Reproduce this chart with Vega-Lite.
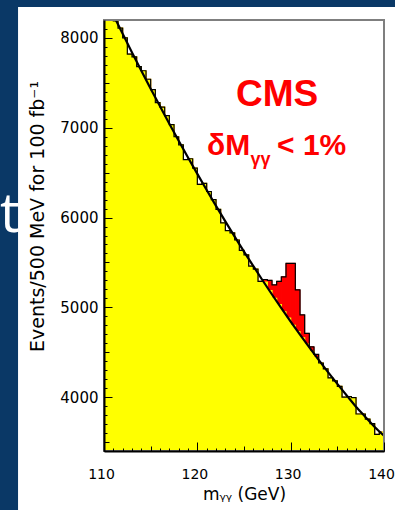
{
  "$schema": "https://vega.github.io/schema/vega-lite/v6.json",
  "width": 280,
  "height": 431,
  "autosize": {"type": "none"},
  "padding": {"left": 104, "top": 20, "right": 11, "bottom": 59},
  "background": "#0a3866",
  "config": {"view": {"stroke": null}},
  "resolve": {"axis": {"x": "independent", "y": "independent"}},
  "datasets": {
    "hist": [
      {"lo": 110.0, "hi": 110.5, "m": 110.25, "bkg": 8420, "tot": 8420},
      {"lo": 110.5, "hi": 111.0, "m": 110.75, "bkg": 8300, "tot": 8300},
      {"lo": 111.0, "hi": 111.5, "m": 111.25, "bkg": 8190, "tot": 8190},
      {"lo": 111.5, "hi": 112.0, "m": 111.75, "bkg": 8110, "tot": 8110},
      {"lo": 112.0, "hi": 112.5, "m": 112.25, "bkg": 8000, "tot": 8000},
      {"lo": 112.5, "hi": 113.0, "m": 112.75, "bkg": 7820, "tot": 7820},
      {"lo": 113.0, "hi": 113.5, "m": 113.25, "bkg": 7790, "tot": 7790},
      {"lo": 113.5, "hi": 114.0, "m": 113.75, "bkg": 7680, "tot": 7680},
      {"lo": 114.0, "hi": 114.5, "m": 114.25, "bkg": 7635, "tot": 7635},
      {"lo": 114.5, "hi": 115.0, "m": 114.75, "bkg": 7540, "tot": 7540},
      {"lo": 115.0, "hi": 115.5, "m": 115.25, "bkg": 7425, "tot": 7425},
      {"lo": 115.5, "hi": 116.0, "m": 115.75, "bkg": 7280, "tot": 7280},
      {"lo": 116.0, "hi": 116.5, "m": 116.25, "bkg": 7230, "tot": 7230},
      {"lo": 116.5, "hi": 117.0, "m": 116.75, "bkg": 7135, "tot": 7135},
      {"lo": 117.0, "hi": 117.5, "m": 117.25, "bkg": 7035, "tot": 7035},
      {"lo": 117.5, "hi": 118.0, "m": 117.75, "bkg": 6900, "tot": 6900},
      {"lo": 118.0, "hi": 118.5, "m": 118.25, "bkg": 6810, "tot": 6810},
      {"lo": 118.5, "hi": 119.0, "m": 118.75, "bkg": 6645, "tot": 6645},
      {"lo": 119.0, "hi": 119.5, "m": 119.25, "bkg": 6655, "tot": 6655},
      {"lo": 119.5, "hi": 120.0, "m": 119.75, "bkg": 6550, "tot": 6550},
      {"lo": 120.0, "hi": 120.5, "m": 120.25, "bkg": 6370, "tot": 6370},
      {"lo": 120.5, "hi": 121.0, "m": 120.75, "bkg": 6380, "tot": 6380},
      {"lo": 121.0, "hi": 121.5, "m": 121.25, "bkg": 6290, "tot": 6290},
      {"lo": 121.5, "hi": 122.0, "m": 121.75, "bkg": 6200, "tot": 6200},
      {"lo": 122.0, "hi": 122.5, "m": 122.25, "bkg": 6090, "tot": 6090},
      {"lo": 122.5, "hi": 123.0, "m": 122.75, "bkg": 5940, "tot": 5940},
      {"lo": 123.0, "hi": 123.5, "m": 123.25, "bkg": 5855, "tot": 5855},
      {"lo": 123.5, "hi": 124.0, "m": 123.75, "bkg": 5830, "tot": 5830},
      {"lo": 124.0, "hi": 124.5, "m": 124.25, "bkg": 5750, "tot": 5750},
      {"lo": 124.5, "hi": 125.0, "m": 124.75, "bkg": 5635, "tot": 5635},
      {"lo": 125.0, "hi": 125.5, "m": 125.25, "bkg": 5585, "tot": 5585},
      {"lo": 125.5, "hi": 126.0, "m": 125.75, "bkg": 5460, "tot": 5460},
      {"lo": 126.0, "hi": 126.5, "m": 126.25, "bkg": 5425, "tot": 5425},
      {"lo": 126.5, "hi": 127.0, "m": 126.75, "bkg": 5290, "tot": 5290},
      {"lo": 127.0, "hi": 127.5, "m": 127.25, "bkg": 5280, "tot": 5310},
      {"lo": 127.5, "hi": 128.0, "m": 127.75, "bkg": 5185, "tot": 5300},
      {"lo": 128.0, "hi": 128.5, "m": 128.25, "bkg": 5100, "tot": 5250},
      {"lo": 128.5, "hi": 129.0, "m": 128.75, "bkg": 5030, "tot": 5290},
      {"lo": 129.0, "hi": 129.5, "m": 129.25, "bkg": 4950, "tot": 5340},
      {"lo": 129.5, "hi": 130.0, "m": 129.75, "bkg": 4880, "tot": 5490},
      {"lo": 130.0, "hi": 130.5, "m": 130.25, "bkg": 4800, "tot": 5490},
      {"lo": 130.5, "hi": 131.0, "m": 130.75, "bkg": 4730, "tot": 5195},
      {"lo": 131.0, "hi": 131.5, "m": 131.25, "bkg": 4660, "tot": 4915},
      {"lo": 131.5, "hi": 132.0, "m": 131.75, "bkg": 4590, "tot": 4710},
      {"lo": 132.0, "hi": 132.5, "m": 132.25, "bkg": 4510, "tot": 4560},
      {"lo": 132.5, "hi": 133.0, "m": 132.75, "bkg": 4440, "tot": 4475},
      {"lo": 133.0, "hi": 133.5, "m": 133.25, "bkg": 4380, "tot": 4380},
      {"lo": 133.5, "hi": 134.0, "m": 133.75, "bkg": 4315, "tot": 4315},
      {"lo": 134.0, "hi": 134.5, "m": 134.25, "bkg": 4215, "tot": 4215},
      {"lo": 134.5, "hi": 135.0, "m": 134.75, "bkg": 4180, "tot": 4180},
      {"lo": 135.0, "hi": 135.5, "m": 135.25, "bkg": 4120, "tot": 4120},
      {"lo": 135.5, "hi": 136.0, "m": 135.75, "bkg": 4000, "tot": 4000},
      {"lo": 136.0, "hi": 136.5, "m": 136.25, "bkg": 4007, "tot": 4007},
      {"lo": 136.5, "hi": 137.0, "m": 136.75, "bkg": 3994, "tot": 3994},
      {"lo": 137.0, "hi": 137.5, "m": 137.25, "bkg": 3812, "tot": 3812},
      {"lo": 137.5, "hi": 138.0, "m": 137.75, "bkg": 3812, "tot": 3812},
      {"lo": 138.0, "hi": 138.5, "m": 138.25, "bkg": 3755, "tot": 3755},
      {"lo": 138.5, "hi": 139.0, "m": 138.75, "bkg": 3705, "tot": 3705},
      {"lo": 139.0, "hi": 139.5, "m": 139.25, "bkg": 3585, "tot": 3585},
      {"lo": 139.5, "hi": 140.0, "m": 139.75, "bkg": 3610, "tot": 3610}
    ],
    "fit": [
      {"mass": 110, "fit": 8470}, {"mass": 111, "fit": 8256}, {"mass": 112, "fit": 8046},
      {"mass": 113, "fit": 7839}, {"mass": 114, "fit": 7635}, {"mass": 115, "fit": 7435},
      {"mass": 116, "fit": 7239}, {"mass": 117, "fit": 7045}, {"mass": 118, "fit": 6855},
      {"mass": 119, "fit": 6669}, {"mass": 120, "fit": 6486}, {"mass": 121, "fit": 6306},
      {"mass": 122, "fit": 6130}, {"mass": 123, "fit": 5957}, {"mass": 124, "fit": 5787},
      {"mass": 125, "fit": 5621}, {"mass": 126, "fit": 5459}, {"mass": 127, "fit": 5299},
      {"mass": 128, "fit": 5143}, {"mass": 129, "fit": 4991}, {"mass": 130, "fit": 4842},
      {"mass": 131, "fit": 4696}, {"mass": 132, "fit": 4554}, {"mass": 133, "fit": 4415},
      {"mass": 134, "fit": 4279}, {"mass": 135, "fit": 4147}, {"mass": 136, "fit": 4019},
      {"mass": 137, "fit": 3893}, {"mass": 138, "fit": 3780}, {"mass": 139, "fit": 3668},
      {"mass": 140, "fit": 3570}
    ]
  },
  "layer": [
    {
      "data": {"values": [{"panel": "white"}]},
      "mark": {"type": "rect", "fill": "#ffffff", "clip": false},
      "encoding": {
        "x": {"datum": 100.79, "type": "quantitative", "axis": null},
        "x2": {"datum": 142},
        "y": {"datum": 8345, "type": "quantitative", "axis": null},
        "y2": {"datum": 2600}
      }
    },
    {
      "data": {"name": "hist"},
      "mark": {"type": "rect", "fill": "#ff0000", "stroke": "#ff0000", "strokeWidth": 1, "clip": true},
      "encoding": {
        "x": {
          "field": "lo",
          "type": "quantitative",
          "scale": {"domain": [110, 140], "nice": false, "zero": false},
          "axis": {
            "orient": "bottom",
            "values": [111,112,113,114,115,116,117,118,119,121,122,123,124,125,126,127,128,129,131,132,133,134,135,136,137,138,139],
            "tickSize": {"condition": {"test": "datum.value % 5 === 0", "value": -5}, "value": -3},
            "tickColor": "#000000",
            "tickWidth": 1,
            "labels": false,
            "domain": false,
            "grid": false,
            "title": null,
            "zindex": 1
          }
        },
        "x2": {"field": "hi"},
        "y": {
          "field": "tot",
          "type": "quantitative",
          "scale": {"domain": [3400, 8200], "nice": false, "zero": false},
          "axis": {
            "orient": "left",
            "values": [3400,3500,3600,3700,3800,3900,4100,4200,4300,4400,4500,4600,4700,4800,4900,5100,5200,5300,5400,5500,5600,5700,5800,5900,6100,6200,6300,6400,6500,6600,6700,6800,6900,7100,7200,7300,7400,7500,7600,7700,7800,7900,8100],
            "tickSize": {"condition": {"test": "datum.value % 500 === 0", "value": -5}, "value": -3},
            "tickColor": "#000000",
            "tickWidth": 1,
            "labels": false,
            "domain": false,
            "grid": false,
            "title": null,
            "zindex": 1
          }
        },
        "y2": {"datum": 3000}
      }
    },
    {
      "data": {"name": "hist"},
      "mark": {"type": "rect", "fill": "#ffff00", "stroke": "#ffff00", "strokeWidth": 1.2, "clip": true},
      "encoding": {
        "x": {
          "field": "lo",
          "type": "quantitative",
          "axis": {
            "orient": "bottom",
            "values": [110, 120, 130, 140],
            "tickSize": -9,
            "tickColor": "#000000",
            "tickWidth": 1,
            "domainColor": "#000000",
            "domainWidth": 2,
            "grid": false,
            "labelFont": "DejaVu Sans",
            "labelFontSize": 14,
            "labelColor": "#000000",
            "labelPadding": 25,
            "labelOffset": -3,
            "labelFlush": false,
            "labelOverlap": false,
            "title": "mᵧᵧ (GeV)",
            "titleFont": "DejaVu Sans",
            "titleFontSize": 17,
            "titleFontWeight": "normal",
            "titleColor": "#000000",
            "titlePadding": 5,
            "zindex": 1
          }
        },
        "x2": {"field": "hi"},
        "y": {
          "field": "bkg",
          "type": "quantitative",
          "axis": {
            "orient": "left",
            "values": [4000, 5000, 6000, 7000, 8000],
            "format": "d",
            "tickSize": -8,
            "tickColor": "#000000",
            "tickWidth": 1,
            "domainColor": "#000000",
            "domainWidth": 2,
            "grid": false,
            "labelFont": "DejaVu Sans",
            "labelFontSize": 15,
            "labelColor": "#000000",
            "labelPadding": 14,
            "labelOverlap": false,
            "title": "Events/500 MeV for 100 fb⁻¹",
            "titleFont": "DejaVu Sans",
            "titleFontSize": 19,
            "titleFontWeight": "normal",
            "titleColor": "#000000",
            "titleX": -57,
            "titleY": 196,
            "zindex": 1
          }
        },
        "y2": {"datum": 3000}
      }
    },
    {
      "data": {"name": "hist"},
      "mark": {"type": "line", "interpolate": "step", "stroke": "#000000", "strokeWidth": 1.2, "clip": true},
      "encoding": {
        "x": {"field": "m", "type": "quantitative", "axis": null},
        "y": {"field": "tot", "type": "quantitative", "axis": null}
      }
    },
    {
      "data": {"name": "fit"},
      "mark": {"type": "line", "interpolate": "monotone", "stroke": "#000000", "strokeWidth": 2.2, "clip": true},
      "encoding": {
        "x": {"field": "mass", "type": "quantitative", "axis": null},
        "y": {"field": "fit", "type": "quantitative", "axis": null}
      }
    },
    {
      "data": {"values": [{"frame": "box"}]},
      "mark": {"type": "rect", "filled": false, "stroke": "#7f7f7f", "strokeWidth": 2, "clip": false},
      "encoding": {
        "x": {"datum": 110, "type": "quantitative", "axis": null},
        "x2": {"datum": 140},
        "y": {"datum": 8200, "type": "quantitative", "axis": null},
        "y2": {"datum": 3400}
      }
    },
    {
      "data": {"values": [{"label": "CMS"}]},
      "mark": {"type": "text", "font": "Liberation Sans", "fontWeight": "bold", "fontSize": 37, "color": "#ff0000", "align": "center", "baseline": "alphabetic", "clip": false},
      "encoding": {
        "x": {"datum": 128.54, "type": "quantitative", "axis": null},
        "y": {"datum": 7242, "type": "quantitative", "axis": null},
        "text": {"field": "label"}
      }
    },
    {
      "data": {"values": [{"label": "δM"}]},
      "mark": {"type": "text", "font": "Liberation Sans", "fontWeight": "bold", "fontSize": 30, "color": "#ff0000", "align": "left", "baseline": "alphabetic", "clip": false},
      "encoding": {
        "x": {"datum": 121.04, "type": "quantitative", "axis": null},
        "y": {"datum": 6696, "type": "quantitative", "axis": null},
        "text": {"field": "label"}
      }
    },
    {
      "data": {"values": [{"label": "γγ"}]},
      "mark": {"type": "text", "font": "Liberation Sans", "fontWeight": "bold", "fontSize": 18, "color": "#ff0000", "align": "left", "baseline": "alphabetic", "clip": false},
      "encoding": {
        "x": {"datum": 125.7, "type": "quantitative", "axis": null},
        "y": {"datum": 6590, "type": "quantitative", "axis": null},
        "text": {"field": "label"}
      }
    },
    {
      "data": {"values": [{"label": "< 1%"}]},
      "mark": {"type": "text", "font": "Liberation Sans", "fontWeight": "bold", "fontSize": 30, "color": "#ff0000", "align": "left", "baseline": "alphabetic", "clip": false},
      "encoding": {
        "x": {"datum": 128.54, "type": "quantitative", "axis": null},
        "y": {"datum": 6696, "type": "quantitative", "axis": null},
        "text": {"field": "label"}
      }
    },
    {
      "data": {"values": [{"label": "t"}]},
      "mark": {"type": "text", "font": "Open Sans", "fontSize": 55, "color": "#ffffff", "align": "left", "baseline": "alphabetic", "clip": false},
      "encoding": {
        "x": {"datum": 98.86, "type": "quantitative", "axis": null},
        "y": {"datum": 5839, "type": "quantitative", "axis": null},
        "text": {"field": "label"}
      }
    }
  ]
}
